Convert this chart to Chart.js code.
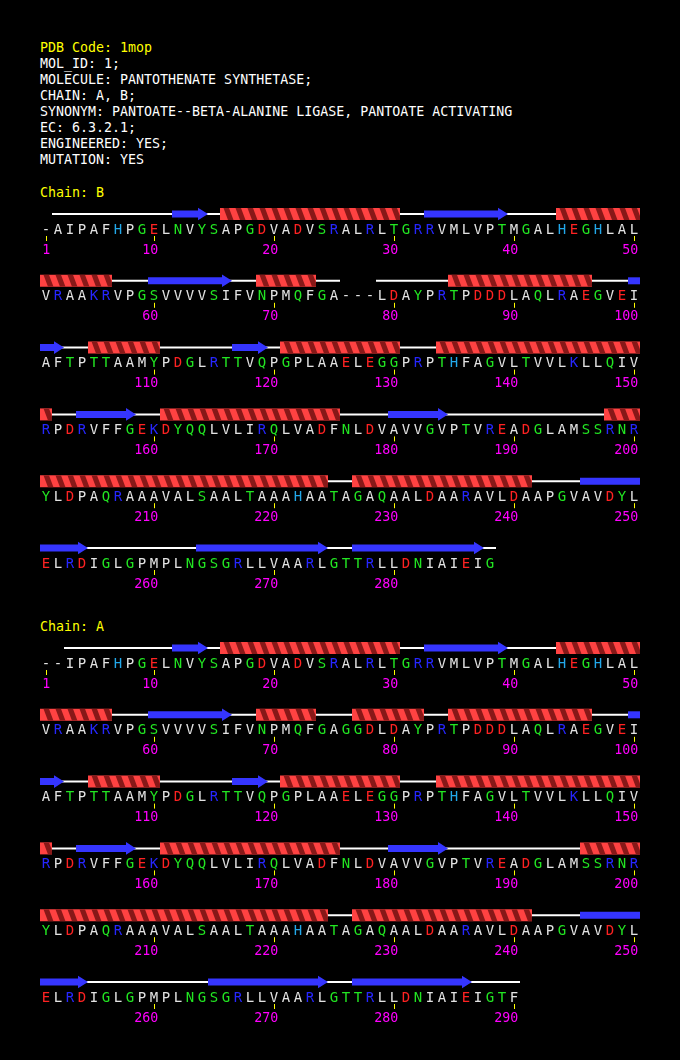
<!DOCTYPE html>
<html>
<head>
<meta charset="utf-8">
<title>1mop sequence</title>
<script src="https://cdn.jsdelivr.net/npm/chart.js@4.4.1/dist/chart.umd.min.js"></script>
<style>
  html, body { margin: 0; padding: 0; background: #000; }
  body { position: relative; width: 680px; height: 1060px; overflow: hidden;
         font-family: "DejaVu Sans Mono", monospace; font-size: 13.3px; color: #fff; }
  .txt { position: absolute; left: 40px; white-space: pre; line-height: 16px; }
  .yellow { color: #ffff00; }
  canvas { position: absolute; left: 0; }
</style>
</head>
<body>
<div id="header" class="txt" style="top:40px"></div>
<div class="txt yellow" style="top:185px">Chain: B</div>
<canvas id="chainB" width="680" height="400" style="top:200px"></canvas>
<div class="txt yellow" style="top:619px">Chain: A</div>
<canvas id="chainA" width="680" height="420" style="top:634px"></canvas>
<script>
// header lines (first one is the PDB code)
const headerLines = [
    'PDB Code: 1mop',
    'MOL_ID: 1;',
    'MOLECULE: PANTOTHENATE SYNTHETASE;',
    'CHAIN: A, B;',
    'SYNONYM: PANTOATE--BETA-ALANINE LIGASE, PANTOATE ACTIVATING',
    'EC: 6.3.2.1;',
    'ENGINEERED: YES;',
    'MUTATION: YES'
];

// sequences, 50 residues per row, '-' = not observed
const seqB = [
    '-AIPAFHPGELNVYSAPGDVADVSRALRLTGRRVMLVPTMGALHEGHLAL',
    'VRAAKRVPGSVVVVSIFVNPMQFGA---LDAYPRTPDDDLAQLRAEGVEI',
    'AFTPTTAAMYPDGLRTTVQPGPLAAELEGGPRPTHFAGVLTVVLKLLQIV',
    'RPDRVFFGEKDYQQLVLIRQLVADFNLDVAVVGVPTVREADGLAMSSRNR',
    'YLDPAQRAAAVALSAALTAAAHAATAGAQAALDAARAVLDAAPGVAVDYL',
    'ELRDIGLGPMPLNGSGRLLVAARLGTTRLLDNIAIEIG'
].join('');
const seqA = [
    '--IPAFHPGELNVYSAPGDVADVSRALRLTGRRVMLVPTMGALHEGHLAL',
    'VRAAKRVPGSVVVVSIFVNPMQFGAGGDLDAYPRTPDDDLAQLRAEGVEI',
    'AFTPTTAAMYPDGLRTTVQPGPLAAELEGGPRPTHFAGVLTVVLKLLQIV',
    'RPDRVFFGEKDYQQLVLIRQLVADFNLDVAVVGVPTVREADGLAMSSRNR',
    'YLDPAQRAAAVALSAALTAAAHAATAGAQAALDAARAVLDAAPGVAVDYL',
    'ELRDIGLGPMPLNGSGRLLVAARLGTTRLLDNIAIEIGTF'
].join('');

// secondary structure, [first, last] residue numbers
const helixB = [[16, 30], [44, 56], [69, 73], [85, 96], [105, 110], [121, 130], [134, 151], [161, 175], [198, 224], [227, 241]];
const strandB = [[12, 14], [33, 39], [60, 66], [100, 102], [117, 119], [154, 158], [180, 184], [246, 254], [264, 274], [277, 287]];
const coilB = [[2, 75], [79, 288]];

const helixA = [[16, 30], [44, 56], [69, 73], [77, 82], [85, 96], [105, 110], [121, 130], [134, 151], [161, 175], [196, 224], [227, 241]];
const strandA = [[12, 14], [33, 39], [60, 66], [100, 102], [117, 119], [154, 158], [180, 184], [246, 254], [265, 274], [277, 286]];
const coilA = [[3, 290]];

// numbered residues
const ticksB = [1, 10, 20, 30, 40, 50, 60, 70, 80, 90, 100, 110, 120, 130, 140, 150, 160, 170, 180, 190, 200, 210, 220, 230, 240, 250, 260, 270, 280];
const ticksA = [1, 10, 20, 30, 40, 50, 60, 70, 80, 90, 100, 110, 120, 130, 140, 150, 160, 170, 180, 190, 200, 210, 220, 230, 240, 250, 260, 270, 280, 290];

// layout (px)
const PER_ROW = 50;
const COL_W = 12, ROW_H = 66.8, X0 = 46, Y0 = 14;

// colours
const HELIX_LIGHT = '#ff4242';
const HELIX_DARK = '#881818';
const STRAND = '#3535ff';
const TICK = '#ffff00';
const NUM = '#ff00ff';

function resColor(c) {
    if ('DE'.includes(c)) return '#ff2222';
    if ('RK'.includes(c)) return '#2626ff';
    if (c === 'H') return '#22a8ea';
    if ('GNQSTYC'.includes(c)) return '#22e622';
    return '#e2e2e2';
}

const rowOf = n => Math.floor((n - 1) / PER_ROW);
const colOf = n => (n - 1) % PER_ROW;

// cut residue ranges into one bar per row
function segments(ranges) {
    const out = [];
    ranges.forEach(([s, e]) => {
        let n = s;
        while (n <= e) {
            const row = rowOf(n);
            const last = Math.min(e, (row + 1) * PER_ROW);
            out.push({ y: row, x: [colOf(n) - 0.5, colOf(last) + 0.5], tip: last === e });
            n = last + 1;
        }
    });
    return out;
}

document.getElementById('header').innerHTML = headerLines
    .map((l, i) => i === 0 ? '<span class="yellow">' + l + '</span>' : l)
    .join('\n');

const seqPlugin = {
    id: 'seqPlugin',
    afterDatasetDraw(chart, args) {
        const ds = chart.data.datasets[args.index];
        const els = args.meta.data;
        const ctx = chart.ctx;
        ctx.save();
        if (ds.kind === 'helix') {
            // dark back-side stripes over the light band, one per residue
            els.forEach(el => {
                const x0 = Math.min(el.base, el.x), x1 = Math.max(el.base, el.x);
                const top = el.y - el.height / 2, bot = el.y + el.height / 2;
                ctx.save();
                ctx.beginPath();
                ctx.rect(x0, top, x1 - x0, bot - top);
                ctx.clip();
                ctx.fillStyle = HELIX_DARK;
                for (let x = x0; x < x1 - 1; x += COL_W) {
                    ctx.beginPath();
                    ctx.moveTo(x + 3.5, top);
                    ctx.lineTo(x + 9, top);
                    ctx.lineTo(x + 13.5, bot);
                    ctx.lineTo(x + 8, bot);
                    ctx.closePath();
                    ctx.fill();
                }
                ctx.restore();
            });
        } else if (ds.kind === 'strand') {
            ctx.fillStyle = STRAND;
            els.forEach((el, i) => {
                if (!ds.data[i].tip) return;
                const x0 = Math.min(el.base, el.x), x1 = Math.max(el.base, el.x);
                const y = el.y, h = el.height / 2, head = Math.min(10, x1 - x0);
                ctx.beginPath();
                ctx.moveTo(x0, y - h);
                ctx.lineTo(x1 - head, y - h);
                ctx.lineTo(x1 - head, y - 6.3);
                ctx.lineTo(x1, y);
                ctx.lineTo(x1 - head, y + 6.3);
                ctx.lineTo(x1 - head, y + h);
                ctx.lineTo(x0, y + h);
                ctx.closePath();
                ctx.fill();
            });
        } else if (ds.kind === 'residues') {
            ctx.font = '14px "DejaVu Sans Mono"';
            ctx.textAlign = 'center';
            ctx.textBaseline = 'alphabetic';
            els.forEach((el, i) => {
                const r = ds.data[i].r;
                ctx.fillStyle = resColor(r);
                ctx.fillText(r, el.x, el.y + 19.5);
            });
        } else if (ds.kind === 'ticks') {
            ctx.font = '13.3px "DejaVu Sans Mono"';
            ctx.textAlign = 'right';
            ctx.textBaseline = 'alphabetic';
            els.forEach((el, i) => {
                ctx.fillStyle = TICK;
                ctx.fillRect(Math.round(el.x), el.y + 22, 1, 5);
                ctx.fillStyle = NUM;
                ctx.fillText(String(ds.data[i].n), el.x + 4.3, el.y + 39.5);
            });
        }
        ctx.restore();
    }
};

function drawChain(id, seq, helix, strand, coil, ticks) {
    const canvas = document.getElementById(id);
    const residues = Array.from(seq).map((r, i) => ({ x: colOf(i + 1), y: rowOf(i + 1), r }));
    const tickPts = ticks.map(n => ({ x: colOf(n), y: rowOf(n), n }));
    new Chart(canvas, {
        type: 'bar',
        data: {
            datasets: [
                { kind: 'residues', type: 'scatter', data: residues, pointRadius: 0 },
                { kind: 'ticks', type: 'scatter', data: tickPts, pointRadius: 0 },
                { kind: 'strand', data: segments(strand), barThickness: 7,
                  backgroundColor: c => (c.raw && c.raw.tip) ? 'rgba(0,0,0,0)' : STRAND },
                { kind: 'helix', data: segments(helix), barThickness: 12, backgroundColor: HELIX_LIGHT },
                { kind: 'coil', data: segments(coil), barThickness: 2, backgroundColor: '#ffffff' }
            ]
        },
        options: {
            responsive: false,
            animation: false,
            events: [],
            indexAxis: 'y',
            layout: { padding: 0 },
            datasets: { bar: { grouped: false, inflateAmount: 0, borderWidth: 0 } },
            plugins: { legend: { display: false }, tooltip: { enabled: false } },
            scales: {
                x: { type: 'linear', display: false, offset: false, bounds: 'data',
                     min: -X0 / COL_W, max: (canvas.width - X0) / COL_W },
                y: { type: 'linear', display: false, offset: false, bounds: 'data', reverse: true,
                     min: -Y0 / ROW_H, max: (canvas.height - Y0) / ROW_H }
            }
        },
        plugins: [seqPlugin]
    });
}

drawChain('chainB', seqB, helixB, strandB, coilB, ticksB);
drawChain('chainA', seqA, helixA, strandA, coilA, ticksA);
</script>
</body>
</html>
